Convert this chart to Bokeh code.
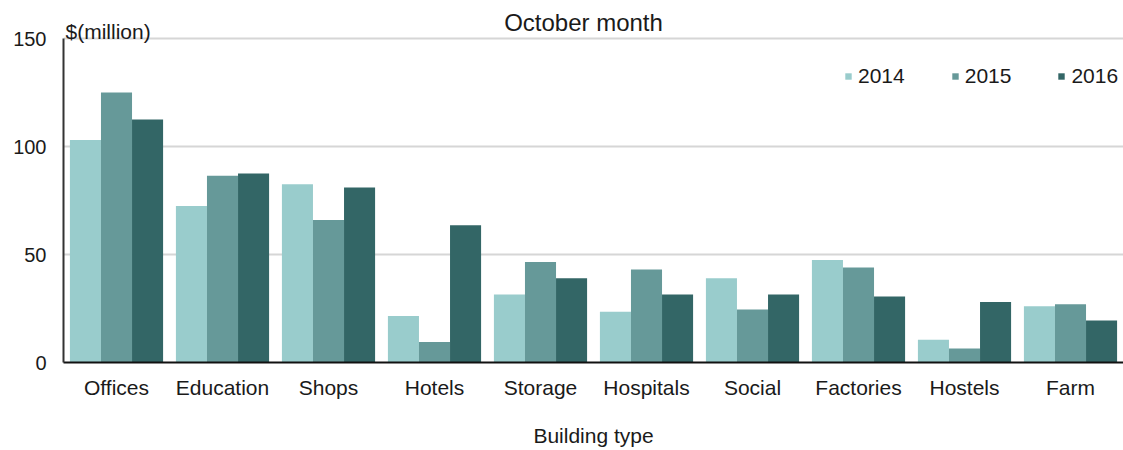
from bokeh.plotting import figure
from bokeh.models import ColumnDataSource, Range1d, FactorRange, FixedTicker, Label, Legend, LegendItem
from bokeh.transform import dodge
from bokeh.embed import file_html
from bokeh.resources import INLINE

categories = ["Offices", "Education", "Shops", "Hotels", "Storage",
              "Hospitals", "Social", "Factories", "Hostels", "Farm"]
years = ["2014", "2015", "2016"]
v2014 = [103, 72.5, 82.5, 21.5, 31.5, 23.5, 39, 47.5, 10.5, 26]
v2015 = [125, 86.5, 66, 9.5, 46.5, 43, 24.5, 44, 6.5, 27]
v2016 = [112.5, 87.5, 81, 63.5, 39, 31.5, 31.5, 30.5, 28, 19.5]
y_ticks = [0, 50, 100, 150]
title_text = "October month"
y_unit = "$(million)"
x_title = "Building type"

colors = ["#99cccc", "#669999", "#336666"]
FONT = "Liberation Sans"
TXT = "#1a1a1a"

source = ColumnDataSource(data=dict(cat=categories, y2014=v2014, y2015=v2015, y2016=v2016))

# frame runs to the top of the canvas; the y axis line itself stops at 150
p = figure(x_range=FactorRange(*categories, range_padding=0), y_range=Range1d(0, 167.6),
           width=1123, height=450, output_backend="svg", toolbar_location=None,
           min_border_left=63, min_border_right=0, min_border_top=0, min_border_bottom=88)
p.x_range.range_padding = 0
p.outline_line_color = None
p.background_fill_color = "white"

bw = 0.293
renderers = []
for i, (yr, col) in enumerate(zip(years, colors)):
    r = p.vbar(x=dodge("cat", (i - 1) * bw, range=p.x_range), top="y" + yr, width=bw,
               source=source, fill_color=col, line_color=None)
    renderers.append(r)

# axes
p.yaxis.ticker = FixedTicker(ticks=y_ticks)
p.yaxis.bounds = (0, 150)
p.yaxis.major_tick_out = 0
p.yaxis.major_tick_in = 0
p.yaxis.minor_tick_out = 0
p.yaxis.minor_tick_in = 0
p.yaxis.major_label_standoff = 17
p.yaxis.axis_line_color = "#333333"
p.yaxis.axis_line_width = 2
p.yaxis.major_label_text_font = FONT
p.yaxis.major_label_text_font_size = "20px"
p.yaxis.major_label_text_color = TXT

p.xaxis.major_tick_out = 0
p.xaxis.major_tick_in = 0
p.xaxis.major_label_standoff = 13
p.xaxis.axis_line_color = "#111111"
p.xaxis.axis_line_width = 2
p.xaxis.major_label_text_font = FONT
p.xaxis.major_label_text_font_size = "21px"
p.xaxis.major_label_text_color = TXT
p.xaxis.axis_label = x_title
p.xaxis.axis_label_standoff = 22
p.xaxis.axis_label_text_font = FONT
p.xaxis.axis_label_text_font_size = "21px"
p.xaxis.axis_label_text_font_style = "normal"
p.xaxis.axis_label_text_color = TXT

p.xgrid.grid_line_color = None
p.ygrid.ticker = FixedTicker(ticks=y_ticks)
p.ygrid.grid_line_color = "#d6d6d6"
p.ygrid.grid_line_width = 2

# labels
p.add_layout(Label(x=0, y=150, x_offset=2, y_offset=7, text=y_unit, text_font=FONT,
                   text_font_size="21px", text_color=TXT, text_align="left",
                   text_baseline="alphabetic"))
p.add_layout(Label(x=len(categories) / 2, y=150, x_offset=-10, y_offset=16, text=title_text,
                   text_font=FONT, text_font_size="24px", text_color=TXT, text_align="center",
                   text_baseline="alphabetic"))

legend = Legend(items=[LegendItem(label=yr, renderers=[r]) for yr, r in zip(years, renderers)],
                location=(781, 274), orientation="horizontal", glyph_width=8, glyph_height=8,
                label_standoff=6, spacing=46, padding=0, margin=0,
                border_line_color=None, background_fill_alpha=0,
                label_text_font=FONT, label_text_font_size="21px", label_text_color=TXT)
p.add_layout(legend)

open("out.html", "w").write(file_html(p, INLINE))
